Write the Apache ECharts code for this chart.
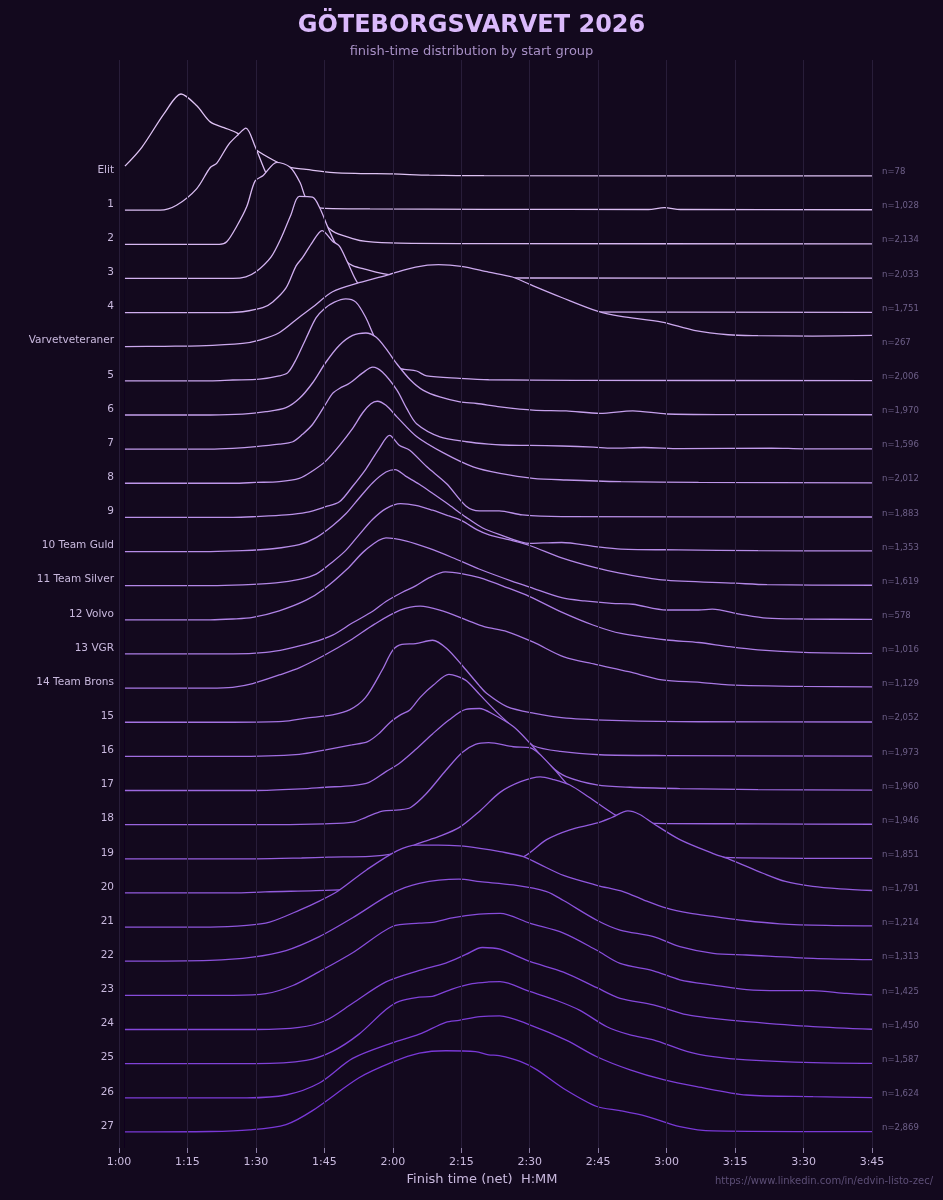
<!DOCTYPE html>
<html>
<head>
<meta charset="utf-8">
<title>Göteborgsvarvet 2026</title>
<script src="https://cdn.jsdelivr.net/npm/echarts@6/dist/echarts.min.js"></script>
<style>
  html, body { margin: 0; padding: 0; background: #13091e; }
  #chart { width: 943px; height: 1200px; }
</style>
</head>
<body>
<div id="chart"></div>
<script>
// start groups, top to bottom
const GROUPS = ['Elit', '1', '2', '3', '4', 'Varvetveteraner', '5', '6', '7', '8', '9',
  '10 Team Guld', '11 Team Silver', '12 Volvo', '13 VGR', '14 Team Brons',
  '15', '16', '17', '18', '19', '20', '21', '22', '23', '24', '25', '26', '27'];
const COUNTS = [78, 1028, 2134, 2033, 1751, 267, 2006, 1970, 1596, 2012, 1883, 1353, 1619, 578,
  1016, 1129, 2052, 1973, 1960, 1946, 1851, 1791, 1214, 1313, 1425, 1450, 1587, 1624, 2869];

// density per group, [minutes, % of group peak]
const D_ELIT = [[61.3,12],[65,35],[70,77],[73.6,100],[77,86],[80,66],[83,59],[86,52],[90,32],[94.6,17],[97,11],[101,8],[107,4],[113,3],[120,2.5],[128,1],[140,0.4],[225,0.2]];
const D_G1 = [[61.3,0],[69,0],[72.6,6],[77,26],[80,52],[81.4,57],[84,80],[86.1,92],[87.8,100],[89.8,78],[92.4,43],[95,22],[100,7],[104.4,2.5],[115,1.5],[140,1],[176,0.8],[179.5,3],[183,0.8],[225,0.5]];
const D_G2 = [[61.3,0],[82,0],[83.6,3],[85.8,22],[88,46],[89.8,77],[91.6,84],[94.6,100],[97.5,94],[99.7,75],[100.8,58],[103.5,35],[106.8,16],[111.2,7],[114.1,3.5],[121.4,1.3],[140,0.8],[225,0.5]];
const D_G3 = [[61.3,0],[85,0],[87.8,2],[90,8],[93.3,26],[95.5,49],[97.7,78],[99.5,100],[102.4,99],[103.9,87],[106.1,58],[108,36],[109.6,22],[111.2,15.5],[114.1,11],[118.8,5],[125,2.5],[135,1],[150,0.5],[225,0.3]];
const D_G4 = [[61.3,0],[84,0],[87.1,1],[91.5,6],[93.7,13],[96.6,30],[98.8,57],[100.2,67],[102.4,86],[104.5,100],[106.8,87],[108.3,81],[110.1,61],[112.3,36],[116,16],[121,6],[130,2],[145,0.8],[225,0.3]];
const D_VARV = [[61.3,0],[70,0.5],[77.6,1],[87.1,4],[90.8,8],[95.1,17],[99.5,36],[102.4,48],[106.8,67],[112.6,78],[119.2,88],[125,97],[130,100],[135,98],[141,91],[146.2,85],[150,76],[157,60],[165,43],[170,37],[179,30],[186,20],[193.5,14.6],[200,13.5],[212,13],[225,13.7]];
const D_G5 = [[61.3,0],[80,0],[84.9,1],[90.8,2],[95.1,6],[97,10],[98.8,26],[101,52],[103.2,77],[105,88],[107.2,96],[109.7,100],[111.9,96],[114.1,77],[115.6,58],[117.8,32],[120.3,17],[122.5,14],[125.2,12],[127.4,6],[134.7,3],[141,1.3],[160,0.6],[225,0.3]];
const D_G6 = [[61.3,0],[80,0],[87.1,1],[92.2,4],[96.6,9],[99.5,20],[102.4,39],[105.3,64],[108.3,85],[111.2,97],[114.1,100],[116.3,95],[118.5,81],[120.8,63],[123.8,43],[126.7,30],[130.3,22],[134.7,16],[138.4,14],[143.5,10],[150.7,6],[158,5],[165.4,2],[172.6,5],[180,1.2],[193.5,0.5],[225,0.3]];
const D_G7 = [[61.3,0],[80,0],[84.9,1],[90,3],[95.1,6],[98.1,9],[100.2,18],[102.4,30],[105.3,55],[106.8,68],[108.3,74],[110.1,79],[111.2,83],[113.4,93],[115.6,100],[117.7,94],[120.9,72],[123,50],[125.2,31],[130.3,15],[136.2,9],[141,6],[144,5],[150,4.5],[157,3.8],[164,2.5],[168,1.2],[175,2],[183,0.6],[203,1.3],[210,0.4],[225,0.3]];
const D_G8 = [[61.3,0],[85,0],[90,1],[95.1,2],[99.5,6],[102.4,15],[105.3,27],[108.3,46],[111.2,67],[113.4,86],[115.2,97],[116.6,100],[118.5,95],[120.9,81],[125.2,57],[131.1,37],[137.6,20],[143.5,12],[150.7,6],[158,4],[170,2],[187,1],[225,0.5]];
const D_G9 = [[61.3,0],[85,0],[90,1],[96.6,3],[101,6],[105.3,13],[108.3,19],[111.2,38],[114.1,59],[117,84],[119.3,100],[121.4,88],[123.7,82],[127.4,62],[131.8,41],[136,14],[139,8],[143.3,8],[148.4,3],[157,1],[225,0.5]];
const D_GULD = [[61.3,0],[80,0],[87.1,1],[93.7,3.4],[99.5,8.4],[103.2,17],[106.8,31.5],[109.7,46],[112.6,65],[115.6,84],[118.5,97],[120.5,100],[122.8,92],[125.8,82],[128.7,71],[132.3,57],[136,42],[139.6,29],[143.3,21],[150,10],[153,10.5],[157,11],[164.4,6],[170,3],[182.6,2],[200,1],[225,0.8]];
const D_SILVER = [[61.3,0],[80,0],[87.1,1],[94.4,3.4],[99.5,7.6],[103.2,14],[106.8,29],[109.7,43],[112.6,62],[115.6,81],[118.5,94],[121.7,100],[125,98],[128.7,92],[132.3,85],[135.2,79],[138.5,68],[141.1,62],[146.2,55],[150,49],[157,34],[164.4,22],[170,15],[179,7],[195,3],[202,1.2],[225,0.5]];
const D_VOLVO = [[61.3,0],[80,0],[84.9,1],[89.3,3],[95.1,11],[101,24],[105,38],[110,62],[114,85],[118.5,100],[123,96],[128,87],[133,76],[138.9,62],[146.2,47],[150,40],[157,27],[162,23],[168,20],[172.6,19],[180,12],[187,12],[190,13],[196,7],[202,2],[210,1],[225,0.5]];
const D_VGR = [[61.3,0],[85,0],[92.2,2],[96.6,6],[102.4,14],[106.8,23],[111.2,38],[115.6,52],[118.5,64],[122,75],[125,83],[128,93],[131.5,100],[135,98],[139,93],[145,81],[150,70],[157,51],[164,35],[170,25],[180,17],[187,14],[193.5,9],[200,5],[210,2],[225,0.8]];
const D_BRONS = [[61.3,0],[80,0],[84.9,1],[89.3,5.5],[95.1,16],[99.6,25],[105,40],[110.6,58],[116,78],[121.6,95],[126,100],[130.3,95],[136.2,83],[140,75],[145,69],[150.8,56],[157.5,38],[164.4,29],[171.7,20],[179,10],[187.3,7],[193.5,4],[210,2],[225,1.5]];
const D_G15 = [[61.3,0],[85,0],[95.9,1],[101,5],[106.8,9],[110.5,15],[114,30],[117.7,64],[120,88],[122,95],[125,96],[128.7,100],[131.8,90],[135.4,68],[138.9,45],[140.6,35],[145,19],[150.8,11],[158,5],[170,2],[187,0.6],[225,0.3]];
const D_G16 = [[61.3,0],[85,0],[99.5,2.5],[105.3,8],[111,14],[114.5,18],[117,28],[119.5,42],[121.5,50],[123.8,57],[126,72],[128.9,87],[132.3,100],[134,98],[136.2,92],[139.1,75],[143.5,50],[147.9,28],[150.8,13],[156.7,6],[165.4,2],[180,1],[225,0.3]];
const D_G17 = [[61.3,0],[90,0],[100,2],[105.3,4],[111.2,6],[114.8,10],[118.5,23],[121.4,33],[125,50],[128.7,69],[132.3,86],[136,99],[139,100],[142,93],[146.4,78],[150,58],[154.8,29],[158,17],[164.7,7],[172,4],[182.9,2.4],[200,1],[225,0.5]];
const D_G18 = [[61.3,0],[95,0],[105,1],[111.2,3],[114.1,9],[117.7,16.5],[121.4,18],[123.9,21],[127.2,37],[131.6,66],[135.2,88],[138.1,98],[141,100],[146.4,95],[150,94],[154.8,71],[158.1,50],[162,28],[166,12],[170,5],[177,1.6],[200,1],[225,0.5]];
const D_G19 = [[61.3,0],[90,0],[100,1],[106,2],[115,3],[120,6],[122.5,11],[125.8,19],[130,27],[134.5,38],[139.2,59],[143.5,81],[148,94],[152.3,100],[155,97],[158.8,90],[163,75],[168.3,55],[175,35],[182,18],[188,7],[194,1.5],[225,0.5]];
const D_G20 = [[61.3,0],[85,0],[92,1.3],[106.8,3.4],[115,6],[125,14],[135,24],[142,33],[148.6,44],[153.7,65],[158.8,77],[164.6,85],[168,92],[171.5,100],[174,96],[177,85],[182.9,65],[190.2,48],[193.8,41],[201.1,24],[206,14],[212,8],[218,5],[225,3]];
const D_G21 = [[61.3,0],[80,0],[88,2],[93,6],[99.7,21],[104,32],[108,44],[114.3,70],[120.9,93],[125.2,100],[130,100],[134.7,99],[139.1,96],[143.5,92],[148.6,86],[152,77],[157.4,63],[164.7,51],[170.6,43],[175,33],[180,23],[185,17],[190.2,13],[197,8],[204.8,4],[215,2],[225,1.5]];
const D_G22 = [[61.3,0],[80,1],[89.3,5],[96.6,13],[103.9,30],[111.2,53],[119.9,83],[125.8,95],[134.5,100],[139.1,97],[146.4,93],[153.7,85],[157.4,74],[164.7,50],[169.8,38],[177.1,30],[182.9,17.7],[190.2,9.6],[197.5,7.6],[212.1,3.5],[225,1.9]];
const D_G23 = [[61.3,0],[85,0],[92.2,2],[98.1,12],[103.9,29],[111.2,52],[119.9,84],[125.8,88],[128.7,89],[133,94.5],[138.9,99],[143.5,100],[150,88],[157.4,76],[164.7,55],[169.8,39],[177.1,30],[182.9,19],[190.2,12.6],[197.5,7],[204.8,5.7],[212.1,5.7],[219.4,2.4],[225,0.5]];
const D_G24 = [[61.3,0],[90,0],[99.5,2.5],[105.3,11],[111.2,32],[118.5,58],[125.8,72],[131.6,81],[136,91.5],[139.6,100],[143.5,98],[150,83],[157.4,70],[164.7,51],[169.8,38],[177.1,30],[184.4,18],[190.2,13.6],[197.5,9.6],[212.1,3.5],[225,0.3]];
const D_G25 = [[61.3,0],[90,0],[101,4],[106.8,15],[112.6,36],[118.5,66],[121.4,76],[125.8,81],[128.7,82],[133,91],[137.4,97.5],[141,99.6],[143.5,100],[150,88],[155.9,77],[161,65],[166.9,45],[172,35],[177.1,29],[184.4,15],[190.2,8.5],[197.5,4.5],[212.1,1.2],[225,0.3]];
const D_G26 = [[61.3,0],[88,0],[96.6,3.4],[103.9,18],[111.2,48],[119.9,67],[125.8,77.5],[131.6,92],[134.5,94.5],[139.1,99],[143.4,100],[150,89],[158.1,70],[164.7,50],[172,34],[179.3,22],[186.6,13.6],[197.5,3.4],[212.1,1.4],[225,0.3]];
const D_G27 = [[61.3,0],[80,0.5],[88.6,2.5],[96.6,9],[102.4,26],[112.6,66],[119.9,85],[125.8,96],[131.6,99],[138.1,98],[141,94],[143.3,93],[147.9,86],[151.5,76],[157.4,53],[164.7,31],[169.8,26],[175.6,19],[182.9,6.5],[190.2,1.2],[225,0.3]];

const DENSITIES = [D_ELIT, D_G1, D_G2, D_G3, D_G4, D_VARV, D_G5, D_G6, D_G7, D_G8, D_G9,
  D_GULD, D_SILVER, D_VOLVO, D_VGR, D_BRONS, D_G15, D_G16, D_G17, D_G18, D_G19, D_G20,
  D_G21, D_G22, D_G23, D_G24, D_G25, D_G26, D_G27];

// layout (y axis runs in pixels above the plot bottom)
const BG = '#13091e';
const FONT = '"DejaVu Sans", sans-serif';
const PLOT_H = 1088;
const ROW = 34.14;
const FIRST_BASE = 972;
const PEAK = 82;
const base = (i) => FIRST_BASE - ROW * i;

const TOP_RGB = [222, 194, 243];
const BOT_RGB = [121, 56, 214];
const colorAt = (i) => {
  const f = i / (GROUPS.length - 1);
  const c = TOP_RGB.map((a, k) => Math.round(a + (BOT_RGB[k] - a) * f));
  return `rgb(${c[0]},${c[1]},${c[2]})`;
};

const fmtTime = (v) => `${Math.floor(v / 60)}:${String(v % 60).padStart(2, '0')}`;
const idxNear = (v, off) => {
  for (let i = 0; i < GROUPS.length; i++) {
    if (Math.abs(base(i) + off - v) < 1) return i;
  }
  return -1;
};

const chart = echarts.init(document.getElementById('chart'));

const option = {
  backgroundColor: BG,
  animation: false,
  textStyle: { fontFamily: FONT },
  grid: { left: 119, right: 71, top: 60, bottom: 52 },
  xAxis: {
    type: 'value',
    min: 60,
    max: 225,
    interval: 15,
    z: 50,
    axisLine: { show: false },
    axisTick: { show: true, length: 5, lineStyle: { color: '#8a7da3', width: 1 } },
    axisLabel: { color: '#c9b9de', fontSize: 11, margin: 9, fontFamily: FONT, formatter: fmtTime },
    splitLine: { show: true, lineStyle: { color: '#281d39', width: 1 } }
  },
  yAxis: [
    {
      type: 'value',
      min: 0,
      max: PLOT_H,
      position: 'left',
      axisLine: { show: false },
      axisTick: { show: false },
      splitLine: { show: false },
      axisLabel: {
        show: true,
        customValues: GROUPS.map((_, i) => base(i) + 6),
        color: '#c9b9de',
        fontSize: 10.5,
        fontFamily: FONT,
        margin: 5,
        formatter: (v) => {
          const i = idxNear(v, 6);
          return i < 0 ? '' : GROUPS[i];
        }
      }
    },
    {
      type: 'value',
      min: 0,
      max: PLOT_H,
      position: 'right',
      axisLine: { show: false },
      axisTick: { show: false },
      splitLine: { show: false },
      axisLabel: {
        show: true,
        customValues: GROUPS.map((_, i) => base(i) + 4),
        color: '#6e6089',
        fontSize: 8.5,
        fontFamily: FONT,
        margin: 10,
        formatter: (v) => {
          const i = idxNear(v, 4);
          return i < 0 ? '' : 'n=' + COUNTS[i].toLocaleString('en-US');
        }
      }
    }
  ],
  series: DENSITIES.map((d, i) => ({
    type: 'line',
    name: GROUPS[i],
    z: 2 + i,
    smooth: 0.3,
    symbol: 'none',
    silent: true,
    lineStyle: { color: colorAt(i), width: 1.3 },
    areaStyle: { color: BG, opacity: 1, origin: 'start' },
    data: d.map(([t, v]) => [t, base(i) + v * PEAK / 100])
  })),
  graphic: [
    {
      type: 'text', left: 'center', top: 14,
      style: { text: 'GÖTEBORGSVARVET 2026', fill: '#dab9fb', font: `bold 24px ${FONT}` }
    },
    {
      type: 'text', left: 'center', top: 45,
      style: { text: 'finish-time distribution by start group', fill: '#a890c6', font: `13px ${FONT}` }
    },
    {
      type: 'text', x: 482, y: 1180,
      style: {
        text: 'Finish time (net)  H:MM', fill: '#c9b9de', font: `13px ${FONT}`,
        align: 'center', verticalAlign: 'middle', textAlign: 'center', textVerticalAlign: 'middle'
      }
    },
    {
      type: 'text', x: 933, y: 1181,
      style: {
        text: 'https://www.linkedin.com/in/edvin-listo-zec/', fill: '#5d4f77', font: `10px ${FONT}`,
        align: 'right', verticalAlign: 'middle', textAlign: 'right', textVerticalAlign: 'middle'
      }
    }
  ]
};

chart.setOption(option);
</script>
</body>
</html>
